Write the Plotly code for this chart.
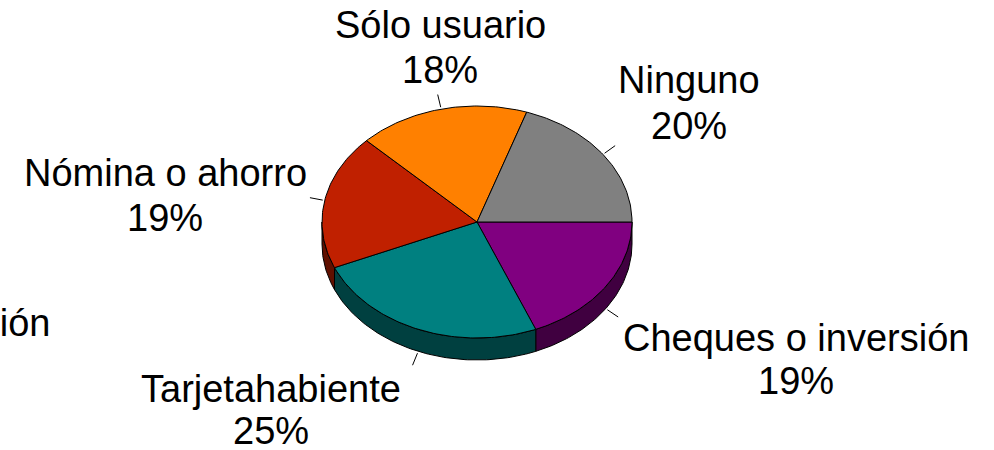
import numpy as np
import plotly.graph_objects as go

# Account-type shares, listed clockwise from 3 o'clock
categories = ["Cheques o inversión", "Tarjetahabiente", "Nómina o ahorro", "Sólo usuario", "Ninguno"]
values = [19, 25, 19, 18, 20]
top_colors = ["#800080", "#008080", "#C02000", "#FF8000", "#808080"]
side_colors = ["#400040", "#004040", "#601000", "#804000", "#404040"]

# Label placement (pixel coordinates, y grows downward)
label_pos = {
    "Cheques o inversión": (796, 338, 381),
    "Tarjetahabiente": (271, 389, 431),
    "Nómina o ahorro": (165, 173, 218),
    "Sólo usuario": (440, 25, 70),
    "Ninguno": (689, 80, 126),
}

# Tilted-pie geometry
cx, cy = 477, 222
rx, ry = 155, 116
depth = 22
W, H = 994, 450
FONT = "Liberation Sans, Arial, sans-serif"
FSIZE = 38


def ellipse_pts(t0, t1, dy=0.0, n=None):
    if n is None:
        n = max(3, int(abs(t1 - t0) / np.radians(1)) + 2)
    t = np.linspace(t0, t1, n)
    return cx + rx * np.cos(t), cy + ry * np.sin(t) + dy


fractions = np.array(values, dtype=float) / np.sum(values)
edges = np.concatenate([[0.0], np.cumsum(fractions)]) * 2 * np.pi

fig = go.Figure()

# Visible side walls (front half of the disc, 0..pi in screen angle)
for i in range(len(values)):
    a, b = edges[i], edges[i + 1]
    a2, b2 = max(a, 0.0), min(b, np.pi)
    if b2 <= a2:
        continue
    xt, yt = ellipse_pts(a2, b2)
    xb, yb = ellipse_pts(b2, a2, dy=depth)
    xs = np.concatenate([xt, xb, xt[:1]])
    ys = np.concatenate([yt, yb, yt[:1]])
    fig.add_trace(go.Scatter(
        x=xs, y=ys, mode="lines", fill="toself",
        fillcolor=side_colors[i], line=dict(color="black", width=1),
        hoverinfo="skip", showlegend=False,
    ))

# Top faces
for i in range(len(values)):
    a, b = edges[i], edges[i + 1]
    xa, ya = ellipse_pts(a, b)
    xs = np.concatenate([[cx], xa, [cx]])
    ys = np.concatenate([[cy], ya, [cy]])
    fig.add_trace(go.Scatter(
        x=xs, y=ys, mode="lines", fill="toself",
        fillcolor=top_colors[i], line=dict(color="black", width=1),
        hoverinfo="skip", showlegend=False, name=categories[i],
    ))

# Leader lines at each slice's mid-angle
for i in range(len(values)):
    m = (edges[i] + edges[i + 1]) / 2
    ex, ey = cx + rx * np.cos(m), cy + ry * np.sin(m)
    if np.sin(m) > 0:
        ey += depth
    x0, y0 = ex + 2 * np.cos(m), ey + 2 * np.sin(m)
    x1, y1 = ex + 15 * np.cos(m), ey + 15 * np.sin(m)
    fig.add_trace(go.Scatter(
        x=[x0, x1], y=[y0, y1], mode="lines",
        line=dict(color="black", width=1),
        hoverinfo="skip", showlegend=False,
    ))

annotations = []
for name, v in zip(categories, values):
    x, y1, y2 = label_pos[name]
    annotations.append(dict(x=x, y=y1, text=name, showarrow=False,
                            xanchor="center", yanchor="middle",
                            font=dict(family=FONT, size=FSIZE, color="black")))
    annotations.append(dict(x=x, y=y2, text=f"{v}%", showarrow=False,
                            xanchor="center", yanchor="middle",
                            font=dict(family=FONT, size=FSIZE, color="black")))

# Partially visible label at the far left edge
annotations.append(dict(x=52, y=323, text="Cheques o inversión", showarrow=False,
                        xanchor="right", yanchor="middle",
                        font=dict(family=FONT, size=FSIZE, color="black")))

fig.update_layout(
    width=W, height=H, autosize=False,
    margin=dict(l=0, r=0, t=0, b=0),
    paper_bgcolor="white", plot_bgcolor="white",
    xaxis=dict(range=[0, W], visible=False, fixedrange=True),
    yaxis=dict(range=[H, 0], visible=False, fixedrange=True),
    annotations=annotations,
    showlegend=False,
)

fig.write_html("out.html")
